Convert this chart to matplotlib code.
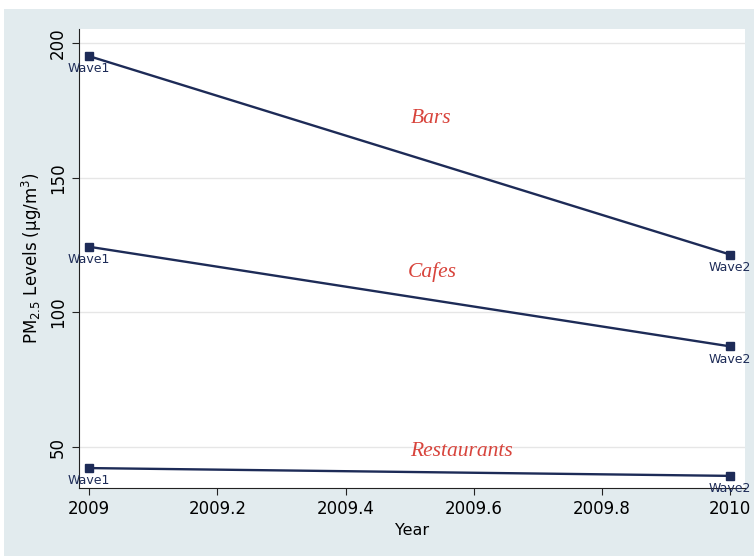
import matplotlib.pyplot as plt
from matplotlib.patches import Rectangle

# --- DATA ---
years = [2009, 2010]
venues = ['Bars', 'Cafes', 'Restaurants']
bars = [195.2, 121.5]
cafes = [124.4, 87.4]
restaurants = [42.2, 39.3]
wave_labels = ['Wave1', 'Wave2']
y_ticks = [50, 100, 150, 200]
x_ticks = [2009, 2009.2, 2009.4, 2009.6, 2009.8, 2010]
x_tick_labels = ['2009', '2009.2', '2009.4', '2009.6', '2009.8', '2010']
# venue label positions (data coords)
venue_label_pos = [(2009.533, 172), (2009.535, 115), (2009.58, 48.3)]
# ------------

NAVY = '#1d2b57'
RED = '#d8443c'
BG = '#e2ebee'

fig = plt.figure(figsize=(7.54, 5.56), dpi=100)
fig.patch.set_facecolor('white')
bg = Rectangle((4 / 754, 0), 1, 1 - 9 / 556, transform=fig.transFigure,
               facecolor=BG, edgecolor='none', zorder=-10)
fig.add_artist(bg)

ax = fig.add_axes([79 / 754, 68 / 556, 666 / 754, 459 / 556])
ax.set_zorder(1)
ax.set_facecolor('white')

for series in [bars, cafes, restaurants]:
    ax.plot(years, series, color=NAVY, lw=1.7, marker='s', ms=5.5,
            markerfacecolor=NAVY, markeredgecolor=NAVY, zorder=3, clip_on=False)
    for x, y, lab in zip(years, series, wave_labels):
        ax.annotate(lab, (x, y), xytext=(0, -4.5), textcoords='offset points',
                    ha='center', va='top', fontsize=9, color=NAVY, zorder=4)

for name, (x, y) in zip(venues, venue_label_pos):
    ax.text(x, y, name, color=RED, fontsize=15.5, style='italic',
            family='Liberation Serif', ha='center', va='center')

ax.set_xlim(2008.984, 2010.023)
ax.set_ylim(34.8, 205.3)
ax.set_yticks(y_ticks)
ax.set_yticklabels([str(v) for v in y_ticks], rotation=90, va='center')
ax.set_xticks(x_ticks)
ax.set_xticklabels(x_tick_labels)
ax.tick_params(axis='both', labelsize=12, length=5, color='#222222')
ax.grid(axis='y', color='#e6e6e6', lw=1)
ax.set_axisbelow(True)
for side in ['top', 'right']:
    ax.spines[side].set_visible(False)
for side in ['left', 'bottom']:
    ax.spines[side].set_color('#222222')

ax.set_xlabel('Year', fontsize=11.5)
ax.set_ylabel(r'PM$_{2.5}$ Levels (µg/m$^3$)', fontsize=12)

fig.savefig('out.png', dpi=100, facecolor=fig.get_facecolor())
